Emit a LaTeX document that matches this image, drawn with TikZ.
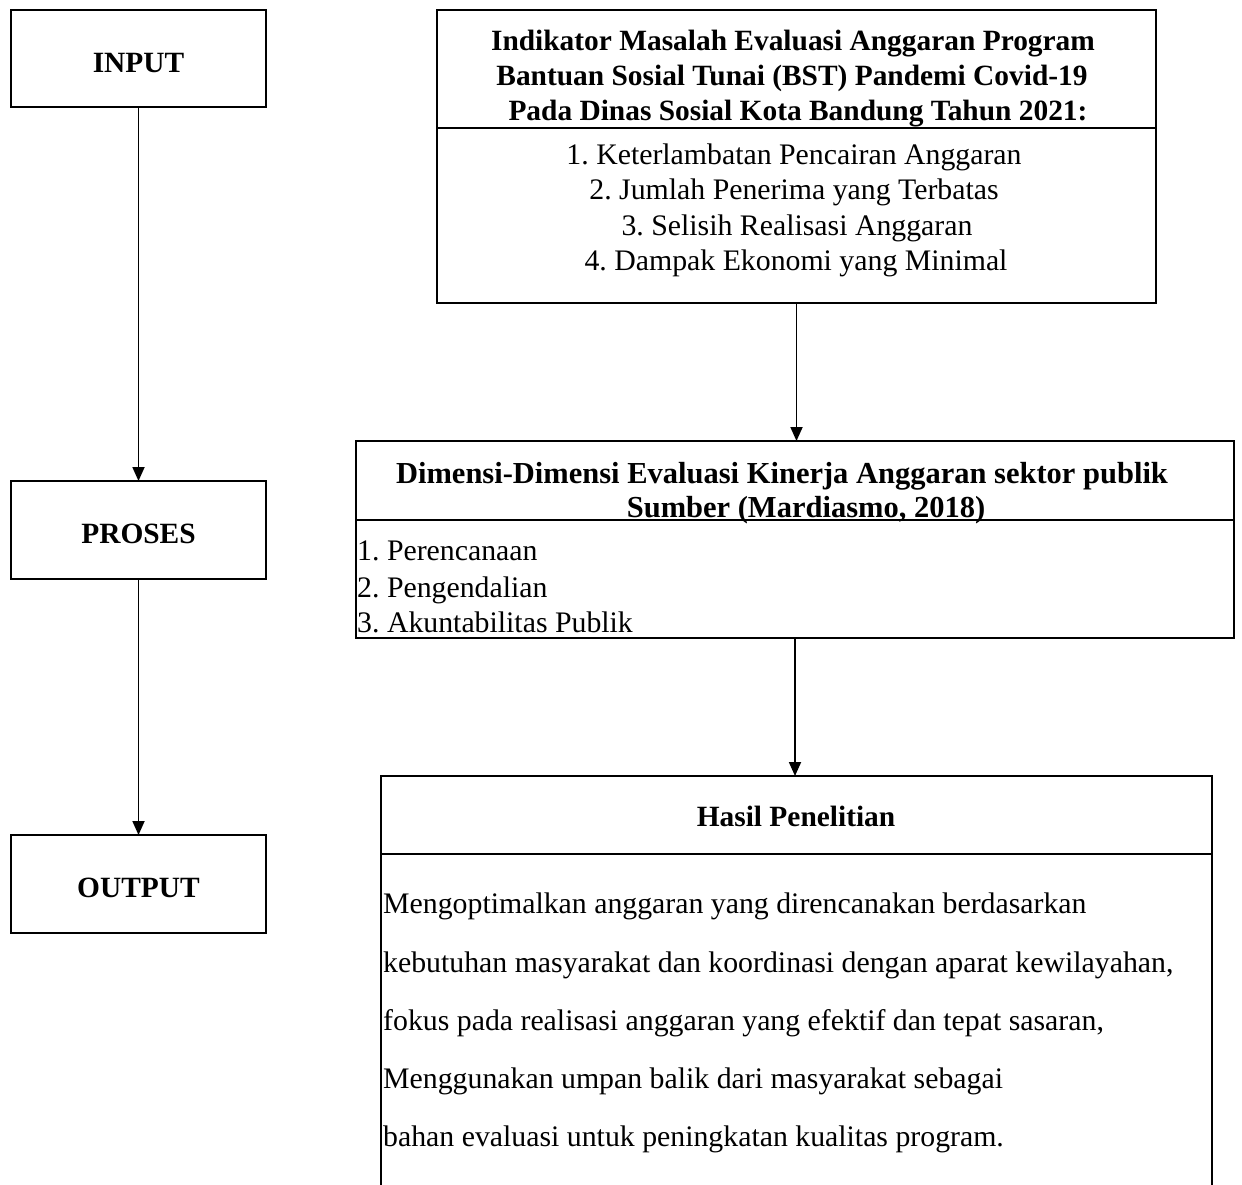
\documentclass[tikz,border=0pt]{standalone}
\usepackage{fontspec}
\setmainfont{Liberation Serif}
\usetikzlibrary{arrows.meta}
\frenchspacing
\tikzset{
  box/.style={draw, line width=1.6pt, inner sep=0pt, outer sep=0pt, fill=white},
  txtb/.style={font=\fontsize{29.4}{29.4}\selectfont\bfseries, anchor=base, inner sep=0pt},
  txtbig/.style={font=\fontsize{30.5}{30.5}\selectfont\bfseries, anchor=base, inner sep=0pt},
  txt/.style={font=\fontsize{29.8}{29.8}\selectfont, anchor=base, inner sep=0pt},
  txtl/.style={txt, anchor=base west},
  arr/.style={-{Triangle[length=14pt,width=12pt]}, line width=1.8pt}
}
\begin{document}
\begin{tikzpicture}[x=1pt,y=-1pt]
\useasboundingbox (0,0) rectangle (1242,1184);
\clip (0,0) rectangle (1242,1184);
\fill[white] (0,0) rectangle (1242,1184);
% left column
\node[box, minimum width=255pt, minimum height=97pt] (input) at (138.5,58.5) {};
\node[box, minimum width=255pt, minimum height=98pt] (proses) at (138.5,530) {};
\node[box, minimum width=255pt, minimum height=98pt] (output) at (138.5,884) {};
\node[txtb] (tinput) at (138.5,72) {INPUT};
\node[txtb] (tproses) at (138.5,543) {PROSES};
\node[txtb] (toutput) at (138.5,897) {OUTPUT};
\draw[arr] (input.south) -- (proses.north);
\draw[arr] (proses.south) -- (output.north);
% top box
\node[box, minimum width=719pt, minimum height=118pt] (tophead) at (796.5,69) {};
\node[box, minimum width=719pt, minimum height=175pt] (topbody) at (796.5,215.5) {};
\node[txtb] (th1) at (793,50) {Indikator Masalah Evaluasi Anggaran Program};
\node[txtb] (th2) at (792,85) {Bantuan Sosial Tunai (BST) Pandemi Covid-19};
\node[txtb] (th3) at (798,120) {Pada Dinas Sosial Kota Bandung Tahun 2021:};
\node[txt] (tl1) at (794,164) {1. Keterlambatan Pencairan Anggaran};
\node[txt] (tl2) at (794,199) {2. Jumlah Penerima yang Terbatas};
\node[txt] (tl3) at (797,235) {3. Selisih Realisasi Anggaran};
\node[txt] (tl4) at (796,270) {4. Dampak Ekonomi yang Minimal};
% middle box
\node[box, minimum width=878pt, minimum height=79pt] (midhead) at (795,480.5) {};
\node[box, minimum width=878pt, minimum height=118pt] (midbody) at (795,579) {};
\node[txtbig] (mh1) at (782,483) {Dimensi-Dimensi Evaluasi Kinerja Anggaran sektor publik};
\node[txtbig] (mh2) at (806,517) {Sumber (Mardiasmo, 2018)};
\node[txtl] (ml1) at (357,560) {1. Perencanaan};
\node[txtl] (ml2) at (357,597) {2. Pengendalian};
\node[txtl] (ml3) at (357,632) {3. Akuntabilitas Publik};
% bottom box
\node[box, minimum width=831pt, minimum height=78pt] (bothead) at (796.5,815) {};
\node[box, minimum width=831pt, minimum height=346pt] (botbody) at (796.5,1027) {};
\node[txtb] (bh) at (796,826) {Hasil Penelitian};
\node[txtl] (b1) at (383,913) {Mengoptimalkan anggaran yang direncanakan berdasarkan};
\node[txtl] (b2) at (383,972) {kebutuhan masyarakat dan koordinasi dengan aparat kewilayahan,};
\node[txtl] (b3) at (383,1030) {fokus pada realisasi anggaran yang efektif dan tepat sasaran,};
\node[txtl] (b4) at (383,1088) {Menggunakan umpan balik dari masyarakat sebagai};
\node[txtl] (b5) at (383,1146) {bahan evaluasi untuk peningkatan kualitas program.};
% connectors
\draw[arr] (topbody.south) -- (topbody.south |- midhead.north);
\draw[arr] (midbody.south) -- (midbody.south |- bothead.north);
\end{tikzpicture}
\end{document}
